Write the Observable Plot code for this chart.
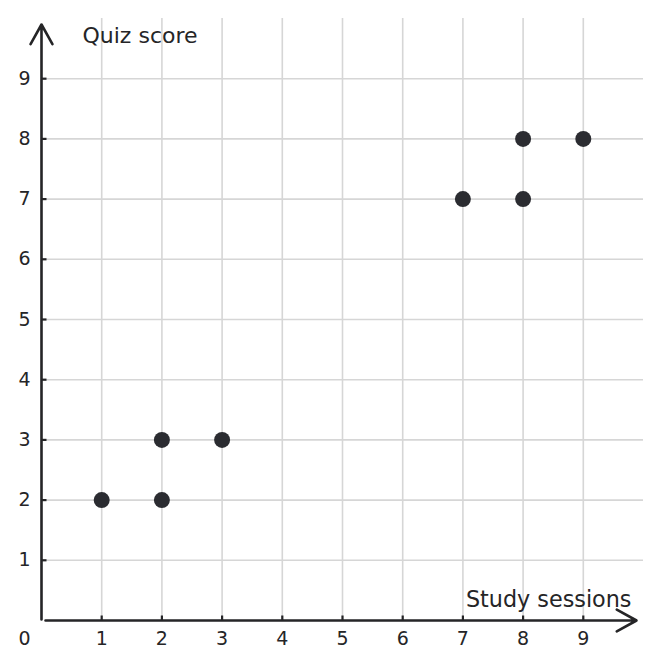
<!DOCTYPE html>
<html>
<head>
<meta charset="utf-8">
<script src="https://cdn.jsdelivr.net/npm/d3@7"></script>
<script src="https://cdn.jsdelivr.net/npm/@observablehq/plot@0.6"></script>
<style>
  html, body { margin: 0; padding: 0; background: #fff; }
  svg { display: block; }
</style>
</head>
<body>
<div id="chart"></div>
<script>
const sessions = [1, 2, 2, 3, 7, 8, 8, 9];
const scores   = [2, 2, 3, 3, 7, 7, 8, 8];
const xTicks = [1, 2, 3, 4, 5, 6, 7, 8, 9];
const yTicks = [1, 2, 3, 4, 5, 6, 7, 8, 9];
const domainX = [0, 10];
const domainY = [0, 10];
const xTitle = "Study sessions";
const yTitle = "Quiz score";
const originLabel = "0";

const points = sessions.map((s, i) => ({s, q: scores[i]}));
const ink = "#252527";
const font = "DejaVu Sans, sans-serif";

const tickRight = {draw(ctx) { ctx.moveTo(0, 0); ctx.lineTo(5, 0); }};
const tickUp = {draw(ctx) { ctx.moveTo(0, 0); ctx.lineTo(0, -5); }};

const chart = Plot.plot({
  width: 661,
  height: 668,
  marginLeft: 41,
  marginRight: 18,
  marginTop: 18,
  marginBottom: 48,
  x: {domain: domainX, axis: null},
  y: {domain: domainY, axis: null},
  style: {fontFamily: font, background: "#fff"},
  marks: [
    Plot.ruleX(xTicks, {x: d => d, y1: domainY[0], y2: domainY[1], stroke: "#d6d6d6", strokeWidth: 1.6}),
    Plot.ruleY(yTicks, {y: d => d, x1: domainX[0], x2: domainX[1], stroke: "#d6d6d6", strokeWidth: 1.6}),
    Plot.arrow([0], {x1: domainX[0], x2: domainX[1], y1: 0, y2: 0, stroke: ink, strokeWidth: 2.6, headLength: 13, headAngle: 58, insetStart: 4, insetEnd: 7}),
    Plot.arrow([0], {x1: 0, x2: 0, y1: domainY[0], y2: domainY[1], stroke: ink, strokeWidth: 2.6, headLength: 13, headAngle: 58, insetStart: 1, insetEnd: 6}),
    Plot.dot(xTicks, {x: d => d, y: 0, symbol: tickUp, r: 5, stroke: ink, strokeWidth: 2.2, fill: "none"}),
    Plot.dot(yTicks, {x: 0, y: d => d, symbol: tickRight, r: 5, stroke: ink, strokeWidth: 2.2, fill: "none"}),
    Plot.text(xTicks, {x: d => d, y: 0, text: d => String(d), dy: 18, fontSize: 19, fill: ink}),
    Plot.text(yTicks, {x: 0, y: d => d, text: d => String(d), dx: -17, fontSize: 19, fill: ink}),
    Plot.text([originLabel], {x: 0, y: 0, text: d => d, dx: -17, dy: 18, fontSize: 19, fill: ink}),
    Plot.text([yTitle], {frameAnchor: "top-left", text: d => d, dx: 41, dy: 9, textAnchor: "start", fontSize: 22, fill: ink}),
    Plot.text([xTitle], {frameAnchor: "bottom-right", text: d => d, dx: -12, dy: -14, textAnchor: "end", fontSize: 22.3, fill: ink}),
    Plot.dot(points, {x: "s", y: "q", r: 8, fill: "#2b2c31", stroke: "none"})
  ]
});
document.getElementById("chart").append(chart);
</script>
</body>
</html>
